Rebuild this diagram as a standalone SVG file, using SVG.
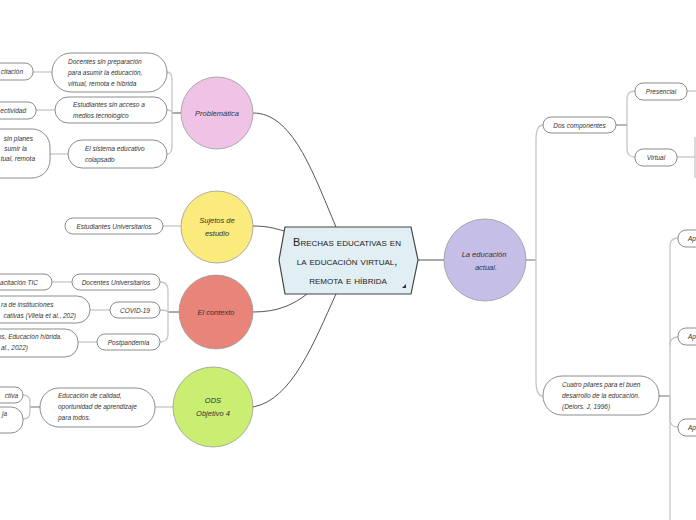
<svg xmlns="http://www.w3.org/2000/svg" width="696" height="520" viewBox="0 0 696 520">
<style>
.bg{fill:#ffffff}
.n rect{fill:#ffffff;stroke:#6e6e6e;stroke-width:0.8}
.t{font-family:"Liberation Sans",Arial,sans-serif;font-size:6.5px;font-style:italic;fill:#333333}
.tm{text-anchor:middle}
.te{text-anchor:end}
.ct{font-family:"Liberation Sans",Arial,sans-serif;font-size:7.5px;font-style:italic;fill:#333333;text-anchor:middle}
.circ{stroke:#9a9a9a;stroke-width:0.8}
.c{fill:none;stroke:#c6c6c6;stroke-width:1.3}
.d{fill:none;stroke:#8a8a8a;stroke-width:1.2}
.m{fill:none;stroke:#555555;stroke-width:1}
.title{font-family:"Liberation Sans",Arial,sans-serif;font-size:11px;font-variant:small-caps;fill:#222222;text-anchor:middle}
</style>
<rect class="bg" x="0" y="0" width="696" height="520"/>

<g id="connectors">
  <!-- center to main topics -->
  <path class="m" d="M253,113 C292,113 312,170 336,227"/>
  <path class="m" d="M253,226 C266,226 274,228 284,231"/>
  <path class="m" d="M253,312 C279,312 294,304 307,294"/>
  <path class="m" d="M253,407 C292,400 314,342 336,294"/>
  <path class="m" d="M418,260 L444,260"/>
  <!-- right side -->
  <path class="d" d="M526,260 L536,260"/>
  <path class="c" d="M536,260 L536,140 Q536,125 543,125"/>
  <path class="c" d="M536,260 L536,381 Q536,396 543,396"/>
  <path class="d" d="M616,125 L627,125"/>
  <path class="c" d="M627,125 L627,99 Q627,91 635,91"/>
  <path class="c" d="M627,125 L627,149 Q627,157 635,157"/>
  <path class="c" d="M687,91 L696,91"/>
  <path class="c" d="M677,157 L695,157"/>
  <path class="c" d="M695,137 L695,178"/>
  <path class="d" d="M659,396 L670,396"/>
  <path class="c" d="M670,396 L670,246 Q670,238 678,238"/>
  <path class="c" d="M670,345 Q670,337 678,337"/>
  <path class="c" d="M670,396 L670,419 Q670,427 678,427"/>
  <path class="c" d="M670,396 L670,520"/>
  <!-- Problemática -->
  <path class="m" d="M181,113 L172,113"/>
  <path class="c" d="M172,113 L172,80 Q172,72 167,72"/>
  <path class="c" d="M172,113 Q172,110 167,110"/>
  <path class="c" d="M172,113 L172,146 Q172,154 167,154"/>
  <path class="c" d="M33,72 L52,72"/>
  <path class="c" d="M36,110 L55,110"/>
  <path class="c" d="M50,154 L68,154"/>
  <!-- Sujetos -->
  <path class="c" d="M163,226 L181,226"/>
  <!-- El contexto -->
  <path class="m" d="M179,312 L168,312"/>
  <path class="c" d="M168,312 L168,290 Q168,282 160,282"/>
  <path class="c" d="M168,312 Q167,310 160,310"/>
  <path class="c" d="M168,312 L168,334 Q168,342 160,342"/>
  <path class="c" d="M52,282 L72,282"/>
  <path class="c" d="M90,310 L110,310"/>
  <path class="c" d="M78,342 L97,342"/>
  <!-- ODS -->
  <path class="c" d="M155,407 L173,407"/>
  <path class="d" d="M40,407 L30,407"/>
  <path class="c" d="M30,407 L30,402 Q30,395 23,395"/>
  <path class="c" d="M30,407 L30,412 Q30,419 23,419"/>
</g>

<g id="central">
  <polygon points="279,260 285,227 411,227 418,260 411,294 285,294" fill="#e1eef4" stroke="#444444" stroke-width="1.2"/>
  <text class="title" x="347" y="246">Brechas educativas en</text>
  <text class="title" x="347" y="265">la educación virtual,</text>
  <text class="title" x="348" y="284">remota e híbrida</text>
  <polygon points="402,288 406,288 406,284" fill="#333333"/>
</g>

<g id="problematica">
  <circle class="circ" cx="217" cy="113" r="36" fill="#f0c2e6"/>
  <text class="ct" x="217" y="116">Problemática</text>
</g>
<g id="sujetos">
  <circle class="circ" cx="217" cy="227" r="36" fill="#fbea7c"/>
  <text class="ct" x="217" y="223">Sujetos de</text>
  <text class="ct" x="217" y="236">estudio</text>
</g>
<g id="contexto">
  <circle class="circ" cx="216" cy="312" r="37" fill="#e8847a"/>
  <text class="ct" x="216" y="315">El contexto</text>
</g>
<g id="ods">
  <circle class="circ" cx="213" cy="407" r="40" fill="#c9ee72"/>
  <text class="ct" x="213" y="403">ODS</text>
  <text class="ct" x="213" y="416">Objetivo 4</text>
</g>
<g id="educacion-actual">
  <circle class="circ" cx="485" cy="260" r="41" fill="#c5bee6"/>
  <text class="ct" x="484" y="257">La educación</text>
  <text class="ct" x="486" y="270">actual.</text>
</g>

<g id="docentes-sin-preparacion" class="n">
  <rect x="52" y="53" width="115" height="39" rx="19"/>
  <text class="t" x="68" y="63.5">Docentes sin preparación</text>
  <text class="t" x="68" y="74.5">para asumir la educación,</text>
  <text class="t" x="68" y="85.5">virtual, remota e híbrida</text>
</g>
<g id="estudiantes-sin-acceso" class="n">
  <rect x="55" y="97" width="112" height="26" rx="13"/>
  <text class="t" x="73" y="107">Estudiantes sin acceso a</text>
  <text class="t" x="73" y="118">medios tecnológico</text>
</g>
<g id="sistema-colapsado" class="n">
  <rect x="68" y="140" width="99" height="28" rx="14"/>
  <text class="t" x="85" y="151">El sistema educativo</text>
  <text class="t" x="85" y="162">colapsado</text>
</g>
<g id="capacitacion" class="n">
  <rect x="-60" y="63" width="93" height="17" rx="8"/>
  <text class="t te" x="23" y="74">citación</text>
</g>
<g id="conectividad" class="n">
  <rect x="-60" y="102" width="96" height="17" rx="8"/>
  <text class="t te" x="26" y="113">ectividad</text>
</g>
<g id="sin-planes" class="n">
  <rect x="-60" y="129" width="110" height="49" rx="18"/>
  <text class="t te" x="33" y="140.5">sin planes</text>
  <text class="t te" x="27" y="150.5">sumir la</text>
  <text class="t te" x="35" y="160.5">tual, remota</text>
</g>

<g id="estudiantes-universitarios" class="n">
  <rect x="65" y="218" width="98" height="16" rx="8"/>
  <text class="t tm" x="114" y="228.5">Estudiantes Universitarios</text>
</g>

<g id="docentes-universitarios" class="n">
  <rect x="72" y="274" width="88" height="16" rx="8"/>
  <text class="t tm" x="116" y="284.5">Docentes Universitarios</text>
</g>
<g id="covid" class="n">
  <rect x="110" y="302" width="50" height="16" rx="8"/>
  <text class="t tm" x="135" y="312.5">COVID-19</text>
</g>
<g id="postpandemia" class="n">
  <rect x="97" y="334" width="63" height="16" rx="8"/>
  <text class="t tm" x="128.5" y="344.5">Postpandemia</text>
</g>
<g id="capacitacion-tic" class="n">
  <rect x="-60" y="274" width="112" height="16" rx="8"/>
  <text class="t te" x="38" y="284.5">acitación TIC</text>
</g>
<g id="instituciones" class="n">
  <rect x="-60" y="296" width="150" height="27" rx="13"/>
  <text class="t" x="1" y="306.5">ra de instituciones</text>
  <text class="t te" x="76" y="317.5">cativas (Vilela et al., 202)</text>
</g>
<g id="hibrida" class="n">
  <rect x="-60" y="329" width="138" height="28" rx="13"/>
  <text class="t te" x="62" y="338.5">os, Educación híbrida.</text>
  <text class="t te" x="28" y="349.5">al., 2022)</text>
</g>

<g id="educacion-calidad" class="n">
  <rect x="40" y="388" width="115" height="39" rx="19"/>
  <text class="t" x="58" y="397.5">Educación de calidad,</text>
  <text class="t" x="58" y="408.5">oportunidad de aprendizaje</text>
  <text class="t" x="58" y="419.5">para todos.</text>
</g>
<g id="ods-hijo-1" class="n">
  <rect x="-60" y="387" width="83" height="16" rx="8"/>
  <text class="t te" x="18" y="397.5">ctiva</text>
</g>
<g id="ods-hijo-2" class="n">
  <rect x="-60" y="407" width="83" height="26" rx="12"/>
  <text class="t te" x="7" y="415.5">ja</text>
</g>

<g id="dos-componentes" class="n">
  <rect x="543" y="117" width="73" height="16" rx="8"/>
  <text class="t tm" x="579.5" y="127.5">Dos componentes</text>
</g>
<g id="presencial" class="n">
  <rect x="635" y="83" width="52" height="17" rx="8"/>
  <text class="t tm" x="661" y="94">Presencial</text>
</g>
<g id="virtual" class="n">
  <rect x="635" y="149" width="42" height="17" rx="8"/>
  <text class="t tm" x="656" y="160">Virtual</text>
</g>
<g id="cuatro-pilares" class="n">
  <rect x="543" y="376" width="116" height="39" rx="19"/>
  <text class="t" x="562" y="386.5">Cuatro pilares para el buen</text>
  <text class="t" x="562" y="398">desarrollo de la educación.</text>
  <text class="t" x="562" y="408.5">(Delors. J, 1996)</text>
</g>
<g id="ap-1" class="n">
  <rect x="678" y="230" width="40" height="17" rx="8"/>
  <text class="t" x="688" y="241">Ap</text>
</g>
<g id="ap-2" class="n">
  <rect x="678" y="328" width="40" height="17" rx="8"/>
  <text class="t" x="688" y="339">Ap</text>
</g>
<g id="ap-3" class="n">
  <rect x="678" y="419" width="40" height="17" rx="8"/>
  <text class="t" x="688" y="430">Ap</text>
</g>
</svg>
